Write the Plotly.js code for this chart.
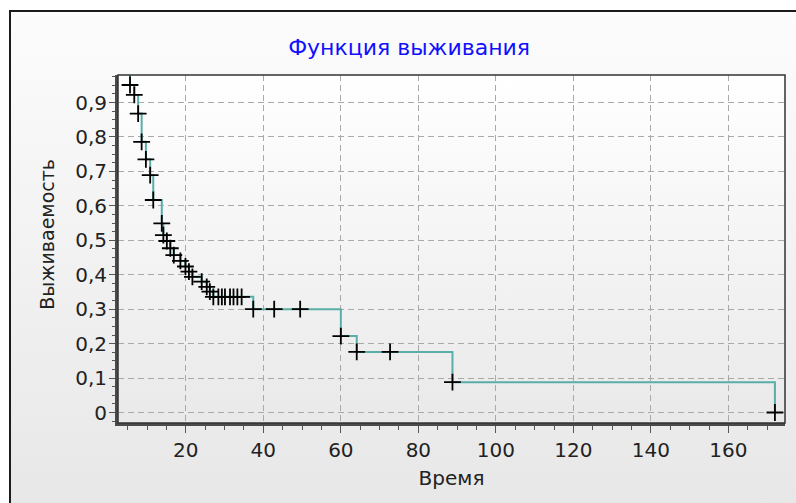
<!DOCTYPE html>
<html>
<head>
<meta charset="utf-8">
<script src="https://cdn.plot.ly/plotly-3.0.1.min.js"></script>
<style>
  html, body { margin:0; padding:0; background:#ffffff; width:796px; height:503px; overflow:hidden; }
  #frame { position:absolute; left:9px; top:10px; width:800px; height:500px;
           border-left:2px solid #1c1c1c; border-top:2px solid #1c1c1c;
           background:linear-gradient(to bottom, #fcfcfc 0%, #e7e7e7 100%); }
  #plotbg { position:absolute; left:118px; top:75px; width:667px; height:348px;
            background:linear-gradient(to bottom, #ffffff 0%, #e9e9e9 100%); }
  #chart { position:absolute; left:0; top:0; width:796px; height:503px; }
</style>
</head>
<body>
<div id="frame"></div>
<div id="plotbg"></div>
<div id="chart"></div>
<script>
// Kaplan–Meier survival estimate
const startTime = 0;
const startSurvival = 1;
const times = [5.6, 6.7, 7.7, 8.6, 9.7, 10.8, 11.6, 13.8, 14.2, 15.1, 16.0, 16.9, 18.6, 19.9, 20.8, 21.7,
               24.1, 25.4, 26.2, 27.1, 28.4, 29.3, 30.1, 31.4, 32.3, 33.3, 34.4, 37.4, 42.8, 49.5,
               60.0, 64.1, 72.7, 88.8, 172.0];
const survival = [0.951, 0.922, 0.868, 0.786, 0.735, 0.689, 0.617, 0.549, 0.515, 0.498, 0.477, 0.457,
                  0.440, 0.424, 0.409, 0.394, 0.380, 0.365, 0.351, 0.336, 0.336, 0.336, 0.336, 0.336,
                  0.336, 0.336, 0.336, 0.300, 0.300, 0.300, 0.222, 0.176, 0.176, 0.088, 0.0];

const xTickVals = [20, 40, 60, 80, 100, 120, 140, 160];
const xTickText = ['20', '40', '60', '80', '100', '120', '140', '160'];
const yTickVals = [0, 0.1, 0.2, 0.3, 0.4, 0.5, 0.6, 0.7, 0.8, 0.9];
const yTickText = ['0', '0,1', '0,2', '0,3', '0,4', '0,5', '0,6', '0,7', '0,8', '0,9'];

const titleText = 'Функция выживания';
const xTitleText = 'Время';
const yTitleText = 'Выживаемость';

const FONT = 'DejaVu Sans';

const lineTrace = {
  x: [startTime].concat(times),
  y: [startSurvival].concat(survival),
  type: 'scatter',
  mode: 'lines',
  line: { shape: 'hv', color: '#5aaea8', width: 2 },
  hoverinfo: 'skip',
  showlegend: false
};

const markerTrace = {
  x: times,
  y: survival,
  type: 'scatter',
  mode: 'markers',
  marker: { symbol: 'cross-thin', size: 12, color: '#000000', line: { color: '#000000', width: 1.8 } },
  showlegend: false
};

const axisCommon = {
  showgrid: true,
  gridcolor: '#a9a9a9',
  gridwidth: 1,
  griddash: '6px,4px',
  zeroline: false,
  showline: true,
  linecolor: '#4a4a4a',
  linewidth: 3,
  ticks: 'outside',
  tickcolor: '#555555',
  tickwidth: 1,
  ticklen: 7,
  tickfont: { family: FONT, size: 20, color: '#222222' }
};

const layout = {
  width: 796,
  height: 503,
  margin: { l: 118, r: 11, t: 75, b: 80 },
  paper_bgcolor: 'rgba(0,0,0,0)',
  plot_bgcolor: 'rgba(0,0,0,0)',
  title: {
    text: titleText,
    font: { family: FONT, size: 22, color: '#1010ff' },
    xref: 'container', yref: 'container',
    x: 0.514, xanchor: 'center',
    y: 0.905, yanchor: 'middle'
  },
  xaxis: Object.assign({}, axisCommon, {
    range: [2.5, 174.6],
    tickmode: 'array',
    tickvals: xTickVals,
    ticktext: xTickText,
    minor: { tick0: 0, dtick: 5, ticks: 'outside', ticklen: 4, tickcolor: '#555555', showgrid: false },
    title: { text: xTitleText, font: { family: FONT, size: 20, color: '#222222' }, standoff: 10 }
  }),
  yaxis: Object.assign({}, axisCommon, {
    range: [-0.0305, 0.98],
    tickmode: 'array',
    tickvals: yTickVals,
    ticktext: yTickText,
    ticklen: 6,
    ticklabelstandoff: -2,
    minor: { tick0: 0, dtick: 0.025, ticks: 'outside', ticklen: 3, tickcolor: '#555555', showgrid: false }
  }),
  annotations: [{
    text: yTitleText,
    textangle: -90,
    xref: 'paper', yref: 'paper',
    x: -0.107, y: 0.543,
    xanchor: 'center', yanchor: 'middle',
    showarrow: false,
    font: { family: FONT, size: 19, color: '#222222' }
  }],
  shapes: [{
    type: 'rect', xref: 'paper', yref: 'paper', x0: 0, x1: 1, y0: 0, y1: 1,
    line: { color: '#333333', width: 1.5 }, layer: 'above'
  }]
};

Plotly.newPlot('chart', [lineTrace, markerTrace], layout, { displayModeBar: false, staticPlot: true });
</script>
</body>
</html>
